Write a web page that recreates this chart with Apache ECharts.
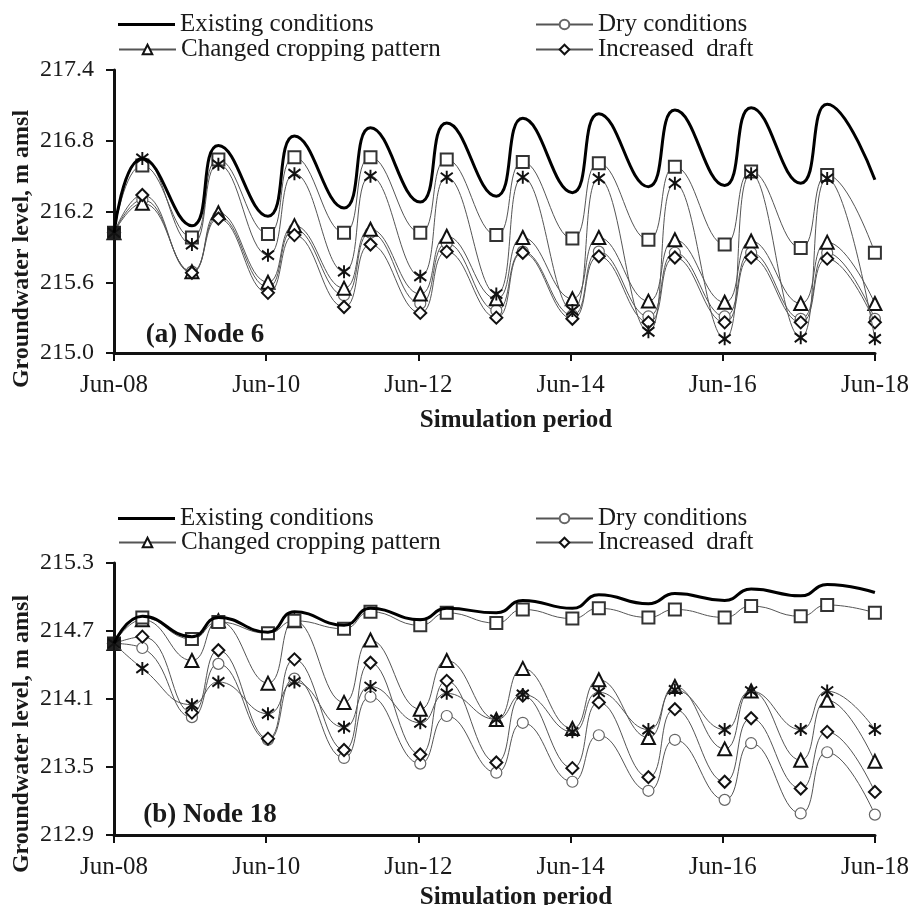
<!DOCTYPE html>
<html>
<head>
<meta charset="utf-8">
<title>Groundwater level scenarios</title>
<script src="https://cdn.jsdelivr.net/npm/echarts@6/dist/echarts.min.js"></script>
<style>
  html, body { margin: 0; padding: 0; background: #fff; }
  #chart { width: 916px; height: 905px; }
</style>
</head>
<body>
<div id="chart"></div>
<script>
// Sampling dates: start, then October peak / June low of each year
const sampleDates = [
  '2008-06-01',
  '2008-10-15', '2009-06-10',
  '2009-10-15', '2010-06-10',
  '2010-10-15', '2011-06-10',
  '2011-10-15', '2012-06-10',
  '2012-10-15', '2013-06-10',
  '2013-10-15', '2014-06-10',
  '2014-10-15', '2015-06-10',
  '2015-10-15', '2016-06-10',
  '2016-10-15', '2017-06-10',
  '2017-10-15', '2018-06-01'
];
const xTickLabels = ['Jun-08', 'Jun-10', 'Jun-12', 'Jun-14', 'Jun-16', 'Jun-18'];

// (a) Node 6 — groundwater level, m amsl
const node6Existing = [216.02, 216.65, 216.08, 216.76, 216.16, 216.84, 216.23, 216.91, 216.28, 216.95, 216.33, 216.99, 216.36, 217.03, 216.41, 217.06, 216.42, 217.08, 216.44, 217.11, 216.47];
const node6Dry      = [216.02, 216.30, 215.69, 216.16, 215.56, 216.05, 215.49, 216.02, 215.42, 215.93, 215.36, 215.86, 215.32, 215.86, 215.31, 215.85, 215.31, 215.85, 215.29, 215.85, 215.29];
const node6Cropping = [216.02, 216.27, 215.69, 216.19, 215.60, 216.08, 215.55, 216.05, 215.50, 215.99, 215.46, 215.98, 215.46, 215.98, 215.44, 215.96, 215.43, 215.95, 215.42, 215.94, 215.42];
const node6Draft    = [216.02, 216.34, 215.68, 216.14, 215.51, 216.00, 215.39, 215.92, 215.34, 215.86, 215.30, 215.85, 215.29, 215.82, 215.26, 215.81, 215.26, 215.81, 215.26, 215.80, 215.26];
const node6Square   = [216.02, 216.59, 215.98, 216.64, 216.01, 216.66, 216.02, 216.66, 216.02, 216.64, 216.00, 216.62, 215.97, 216.61, 215.96, 216.58, 215.92, 216.54, 215.89, 216.51, 215.85];
const node6Star     = [216.02, 216.65, 215.92, 216.60, 215.83, 216.52, 215.69, 216.50, 215.65, 216.49, 215.50, 216.49, 215.36, 216.48, 215.18, 216.44, 215.12, 216.52, 215.13, 216.48, 215.12];

// (b) Node 18 — groundwater level, m amsl
const node18Existing = [214.59, 214.83, 214.65, 214.82, 214.69, 214.87, 214.75, 214.90, 214.80, 214.90, 214.86, 214.97, 214.90, 215.02, 214.94, 215.03, 214.97, 215.07, 215.01, 215.11, 215.04];
const node18Dry      = [214.59, 214.55, 213.94, 214.41, 213.74, 214.28, 213.58, 214.12, 213.53, 213.95, 213.45, 213.89, 213.37, 213.78, 213.29, 213.74, 213.21, 213.71, 213.09, 213.63, 213.08];
const node18Cropping = [214.59, 214.80, 214.44, 214.79, 214.24, 214.79, 214.07, 214.62, 214.01, 214.44, 213.92, 214.37, 213.84, 214.27, 213.76, 214.21, 213.66, 214.17, 213.56, 214.09, 213.55];
const node18Draft    = [214.59, 214.65, 213.98, 214.53, 213.75, 214.45, 213.65, 214.42, 213.61, 214.26, 213.54, 214.13, 213.49, 214.07, 213.41, 214.01, 213.37, 213.93, 213.31, 213.81, 213.28];
const node18Square   = [214.59, 214.82, 214.63, 214.78, 214.68, 214.79, 214.72, 214.87, 214.75, 214.86, 214.77, 214.89, 214.81, 214.90, 214.82, 214.89, 214.82, 214.92, 214.83, 214.93, 214.86];
const node18Star     = [214.59, 214.37, 214.05, 214.25, 213.97, 214.25, 213.85, 214.21, 213.89, 214.15, 213.92, 214.14, 213.81, 214.16, 213.83, 214.18, 213.83, 214.17, 213.83, 214.17, 213.83];

const node6Axis  = { min: 215.0, max: 217.4, interval: 0.6 };
const node18Axis = { min: 212.9, max: 215.3, interval: 0.6 };

const FONT = 'Liberation Serif';
const INK = '#1a1a1a';

// years elapsed since Jun-08
const t0 = Date.parse('2008-06-01');
const xYears = sampleDates.map(d => (Date.parse(d) - t0) / (365.25 * 86400000));

const ASTERISK = 'path://M0,-10L0,10M-8,-7L8,7M-8,7L8,-7';

function pts(vals, firstStyle) {
  return vals.map((v, i) => {
    if (i === 0 && firstStyle) return { value: [xYears[i], v], itemStyle: firstStyle };
    return [xYears[i], v];
  });
}

function thinLine(name, vals, g, symbol, size, itemStyle, z, firstStyle) {
  return {
    name, type: 'line', xAxisIndex: g, yAxisIndex: g,
    data: pts(vals, firstStyle), smooth: 0.5,
    symbol, symbolSize: size, showSymbol: true,
    lineStyle: { color: '#555', width: 1 },
    itemStyle, z, animation: false
  };
}

function panelSeries(g, d) {
  return [
    thinLine('Dry conditions', d.dry, g, 'circle', 11, { color: '#fff', borderColor: '#666', borderWidth: 1.2 }, 3),
    thinLine('Changed cropping pattern', d.crop, g, 'triangle', 13, { color: '#fff', borderColor: '#111', borderWidth: 2 }, 4),
    thinLine('Increased  draft', d.draft, g, 'diamond', 12, { color: '#fff', borderColor: '#111', borderWidth: 2 }, 5),
    thinLine('Scenario 5', d.square, g, 'rect', 12, { color: '#fff', borderColor: '#333', borderWidth: 2 }, 6, { color: '#222', borderColor: '#222' }),
    thinLine('Scenario 6', d.star, g, ASTERISK, [12, 13], { color: '#111', borderColor: '#111', borderWidth: 2 }, 7),
    {
      name: 'Existing conditions', type: 'line', xAxisIndex: g, yAxisIndex: g,
      data: pts(d.existing), smooth: 0.5, symbol: 'none',
      lineStyle: { color: '#000', width: 3 }, itemStyle: { color: '#000' }, z: 8, animation: false
    }
  ];
}

function legendsAt(row1, row2) {
  const base = {
    orient: 'horizontal', padding: 0, itemWidth: 57, itemHeight: 12, selectedMode: false,
    textStyle: { fontFamily: FONT, fontSize: 25, color: INK }
  };
  return [
    Object.assign({}, base, {
      data: [{ name: 'Existing conditions', icon: 'rect' }], left: 118, top: row1,
      itemHeight: 3, itemStyle: { color: '#000', borderWidth: 0 }
    }),
    Object.assign({ data: ['Dry conditions'], left: 535, top: row1 }, base),
    Object.assign({ data: ['Changed cropping pattern'], left: 118, top: row2 }, base),
    Object.assign({ data: ['Increased  draft'], left: 535, top: row2 }, base)
  ];
}

function xAxisFor(g) {
  return {
    type: 'value', gridIndex: g, min: 0, max: 10, interval: 2,
    axisLine: { lineStyle: { color: '#111', width: 3 } },
    axisTick: { show: true, length: 8, lineStyle: { color: '#111', width: 2 } },
    splitLine: { show: false },
    axisLabel: {
      margin: 20, fontFamily: FONT, fontSize: 25, color: INK,
      formatter: v => xTickLabels[Math.round(v / 2)]
    }
  };
}

function yAxisFor(g, ax) {
  return {
    type: 'value', gridIndex: g, min: ax.min, max: ax.max, interval: ax.interval,
    axisLine: { show: true, lineStyle: { color: '#111', width: 3 } },
    axisTick: { show: true, length: 8, lineStyle: { color: '#111', width: 2 } },
    splitLine: { show: false },
    axisLabel: {
      margin: 20, fontFamily: FONT, fontSize: 24, color: INK,
      formatter: v => v.toFixed(1)
    }
  };
}

function text(x, y, str, size, weight, rotation) {
  return {
    type: 'text', x, y, rotation: rotation || 0,
    style: {
      text: str, fontFamily: FONT, fontSize: size, fontWeight: weight, fill: INK,
      align: 'center', verticalAlign: 'middle'
    }
  };
}

const chart = echarts.init(document.getElementById('chart'), null, { renderer: 'canvas' });

chart.setOption({
  backgroundColor: '#fff',
  animation: false,
  legend: legendsAt(12, 37).concat(legendsAt(506, 530)),
  grid: [
    { left: 114, top: 70, width: 761, height: 283 },
    { left: 114, top: 563, width: 761, height: 272 }
  ],
  xAxis: [xAxisFor(0), xAxisFor(1)],
  yAxis: [yAxisFor(0, node6Axis), yAxisFor(1, node18Axis)],
  series: panelSeries(0, {
    existing: node6Existing, dry: node6Dry, crop: node6Cropping,
    draft: node6Draft, square: node6Square, star: node6Star
  }).concat(panelSeries(1, {
    existing: node18Existing, dry: node18Dry, crop: node18Cropping,
    draft: node18Draft, square: node18Square, star: node18Star
  })),
  graphic: [
    text(205, 335, '(a) Node 6', 27, 'bold'),
    text(210, 815, '(b) Node 18', 27, 'bold'),
    text(516, 421, 'Simulation period', 25, 'bold'),
    text(516, 898, 'Simulation period', 25, 'bold'),
    text(22, 249, 'Groundwater level, m amsl', 24, 'bold', Math.PI / 2),
    text(22, 734, 'Groundwater level, m amsl', 24, 'bold', Math.PI / 2)
  ]
});
</script>
</body>
</html>
